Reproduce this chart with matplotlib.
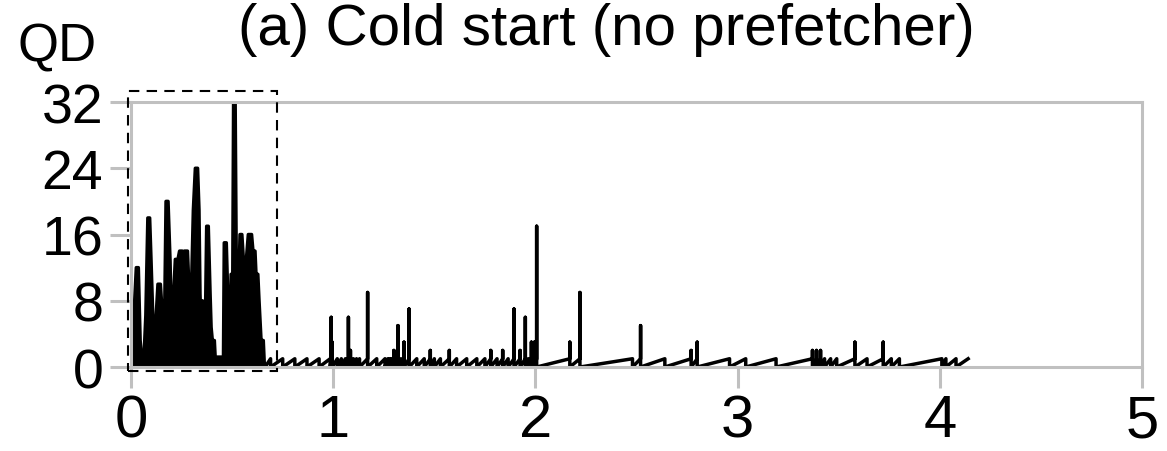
import matplotlib
matplotlib.use("Agg")
import matplotlib.pyplot as plt
from matplotlib.patches import Rectangle

plt.rcParams['font.family'] = ['Liberation Sans', 'DejaVu Sans']

# cold start burst (time in s, queue depth)
cold_t = [0.000, 0.000, 0.010, 0.016, 0.026, 0.036, 0.045, 0.052, 0.064, 0.073,
          0.083, 0.092, 0.099, 0.110, 0.122, 0.133, 0.145, 0.155, 0.165, 0.173,
          0.183, 0.193, 0.201, 0.209, 0.219, 0.232, 0.240, 0.253, 0.257, 0.260,
          0.264, 0.279, 0.289, 0.299, 0.308, 0.318, 0.329, 0.336, 0.341, 0.346,
          0.353, 0.360, 0.366, 0.374, 0.382, 0.391, 0.396, 0.402, 0.412, 0.416,
          0.457, 0.461, 0.471, 0.481, 0.490, 0.495, 0.503, 0.507, 0.515, 0.523,
          0.530, 0.539, 0.548, 0.556, 0.564, 0.571, 0.580, 0.596, 0.603, 0.613,
          0.618, 0.627, 0.633, 0.643, 0.654, 0.659, 0.663]
cold_qd = [0.0, 2.2, 2.2, 7.0, 12.0, 12.0, 3.2, 1.2, 1.2, 6.2,
           18.0, 18.0, 12.8, 4.2, 5.2, 10.0, 10.0, 6.2, 4.0, 20.0,
           20.0, 12.8, 3.2, 8.0, 13.0, 13.0, 14.0, 14.0, 0.0, 0.0,
           14.0, 14.0, 8.0, 9.6, 18.9, 24.0, 24.0, 19.0, 8.8, 5.2,
           8.0, 3.2, 2.4, 17.0, 17.0, 8.8, 4.8, 3.2, 3.2, 1.2,
           1.2, 15.0, 15.0, 6.2, 4.0, 11.2, 11.2, 31.8, 31.8, 3.0,
           7.2, 16.0, 16.0, 12.8, 8.4, 13.2, 16.0, 16.0, 14.0, 14.0,
           11.2, 11.2, 8.0, 3.2, 3.2, 0.4, 0.0]

# after the burst: slow ramps that drop back to zero, some with short spikes
event_t = [0.69, 0.75, 0.81, 0.87, 0.93, 0.985, 0.99, 0.995, 1.02, 1.04,
           1.06, 1.075, 1.085, 1.10, 1.115, 1.13, 1.17, 1.215, 1.256, 1.27,
           1.28, 1.29, 1.30, 1.32, 1.335, 1.35, 1.375, 1.413, 1.45, 1.48,
           1.50, 1.53, 1.574, 1.61, 1.66, 1.71, 1.75, 1.779, 1.81, 1.838,
           1.865, 1.894, 1.924, 1.95, 1.965, 1.98, 1.995, 2.006, 2.17, 2.22,
           2.48, 2.52, 2.64, 2.77, 2.80, 2.96, 3.04, 3.19, 3.37, 3.39,
           3.41, 3.43, 3.46, 3.49, 3.58, 3.64, 3.72, 3.76, 3.80, 4.01,
           4.03, 4.08]
event_qd = [1, 1, 1, 1, 1, 1, 6, 3, 1, 1,
            1, 6, 2, 1, 1, 1, 9, 1, 1, 1,
            1, 1, 2, 5, 1, 3, 7, 1, 1, 2,
            1, 1, 2, 1, 1, 1, 1, 2, 1, 2,
            1, 7, 2, 6, 1, 3, 3, 17, 3, 9,
            1, 5, 1, 2, 3, 1, 1, 1, 2, 2,
            2, 1, 1, 1, 3, 1, 3, 1, 1, 1,
            1, 1]
ramp_top = 1.0
end_t = 4.14

t = list(cold_t)
qd = list(cold_qd)
for et, eh in zip(event_t, event_qd):
    t += [et, et]
    qd += [ramp_top, max(eh, ramp_top)]
    t.append(et)
    qd.append(0.0)
t.append(end_t)
qd.append(ramp_top)

fig = plt.figure(figsize=(11.67, 4.52), dpi=100)
ax = fig.add_axes([0.1123, 0.1858, 0.8663, 0.5863])

ax.fill_between(cold_t, cold_qd, 0, color='black', lw=0)
ax.plot(t, qd, color='black', lw=2.5)

ax.add_patch(Rectangle((-0.015, -0.5), 0.735, 33.8, fill=False, ec='black',
                       lw=1.5, ls=(0, (5, 3.5)), clip_on=False, zorder=5))

ax.set_xlim(0, 5)
ax.set_ylim(0, 32)
ax.set_xticks([0, 1, 2, 3, 4, 5])
ax.set_yticks([0, 8, 16, 24, 32])
grey = '#c0c0c0'
for s in ax.spines.values():
    s.set_color(grey)
    s.set_linewidth(2.2)
ax.tick_params(axis='both', direction='out', length=15, width=2.2, color=grey)
ax.tick_params(axis='x', labelsize=43, pad=4)
ax.tick_params(axis='y', labelsize=40, pad=5)

fig.text(0.52, 1 - 45 / 452, '(a) Cold start (no prefetcher)', fontsize=42,
         ha='center', va='baseline')
fig.text(57 / 1167, 1 - 62 / 452, 'QD', fontsize=38, ha='center', va='baseline')

fig.savefig('out.png', dpi=100)
